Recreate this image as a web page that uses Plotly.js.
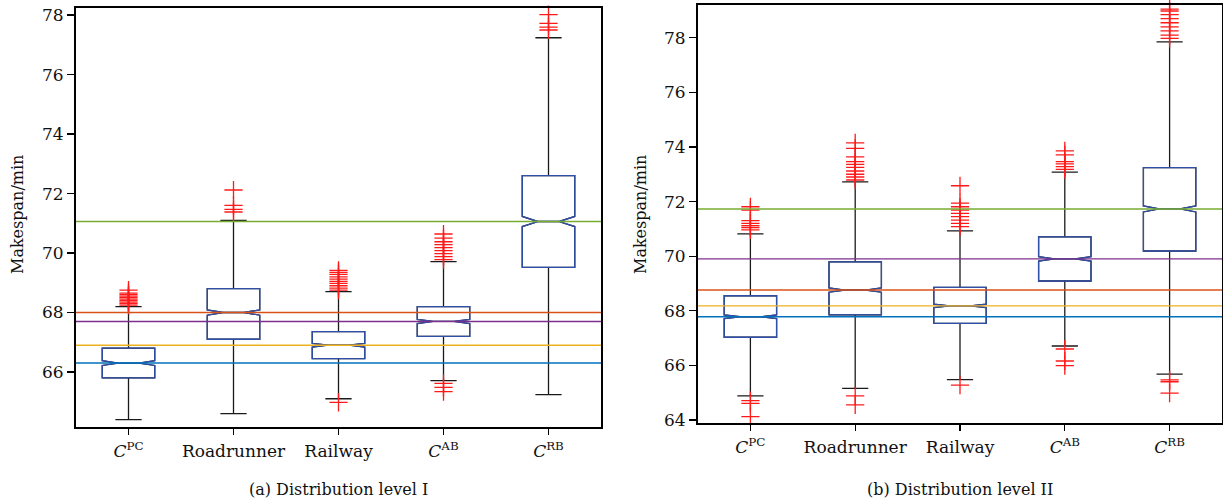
<!DOCTYPE html>
<html><head><meta charset="utf-8">
<script src="https://cdn.plot.ly/plotly-3.0.1.min.js"></script>
<style>body{margin:0;background:#fff}</style>
</head><body><div id="chart" style="width:1223px;height:504px"></div>
<script>
const categories = ['<i>C</i><sup>PC</sup>', 'Roadrunner', 'Railway', '<i>C</i><sup>AB</sup>', '<i>C</i><sup>RB</sup>'];
const positions = [0, 1, 2, 3, 4];
const medianLineColors = ['#0072BD', '#D95319', '#EDB120', '#7E2F8E', '#77AC30'];

// (a) Distribution level I
const l1Q1 = [65.8, 67.1, 66.45, 67.2, 69.52];
const l1Median = [66.3, 68.0, 66.9, 67.7, 71.06];
const l1Q3 = [66.8, 68.8, 67.36, 68.2, 72.6];
const l1Lower = [64.4, 64.6, 65.1, 65.71, 65.24];
const l1Upper = [68.2, 71.1, 68.7, 69.71, 77.24];
const l1Notch = [0.08, 0.09, 0.06, 0.07, 0.17];
const l1Outliers = [
  [68.25, 68.3, 68.35, 68.4, 68.45, 68.5, 68.55, 68.6, 68.65, 68.75],
  [71.38, 71.47, 71.6, 72.12],
  [64.98, 68.75, 68.82, 68.9, 68.98, 69.05, 69.12, 69.2, 69.28, 69.35, 69.42],
  [65.34, 65.48, 65.62, 69.78, 69.88, 69.98, 70.08, 70.18, 70.28, 70.38, 70.5, 70.64],
  [77.5, 77.6, 77.72, 78.02]
];

// (b) Distribution level II
const l2Q1 = [67.03, 67.85, 67.54, 69.09, 70.19];
const l2Median = [67.78, 68.76, 68.18, 69.9, 71.73];
const l2Q3 = [68.55, 69.79, 68.86, 70.71, 73.24];
const l2Lower = [64.88, 65.16, 65.48, 66.71, 65.68];
const l2Upper = [70.82, 72.72, 70.93, 73.08, 77.85];
const l2Notch = [0.07, 0.08, 0.06, 0.08, 0.11];
const l2Outliers = [
  [64.12, 64.61, 64.71, 70.96, 71.05, 71.12, 71.2, 71.3, 71.69, 71.81],
  [64.55, 64.88, 72.79, 72.9, 73.0, 73.12, 73.25, 73.36, 73.46, 73.64, 73.95, 74.15],
  [65.28, 71.08, 71.2, 71.32, 71.45, 71.57, 71.69, 71.81, 71.94, 72.58],
  [65.99, 66.16, 66.6, 73.18, 73.28, 73.38, 73.46, 73.71, 73.86],
  [64.98, 65.4, 65.47, 77.98, 78.1, 78.25, 78.4, 78.55, 78.7, 78.85, 78.98, 79.05]
];

const serif = 'DejaVu Serif, serif';
const traces = [];
const shapes = [];

function addPanel(xa, ya, q1, med, q3, lo, hi, notch, outl) {
  // whiskers (black)
  traces.push({
    type: 'box', x: positions, q1: q1, median: med, q3: q3,
    lowerfence: lo, upperfence: hi, notched: true, notchspan: notch, notchwidth: 0.3,
    width: 0.5, whiskerwidth: 0.5, boxpoints: false,
    line: {color: '#1a1a1a', width: 1.3}, fillcolor: 'rgba(255,255,255,0)',
    xaxis: xa, yaxis: ya, showlegend: false, hoverinfo: 'skip'
  });
  // box (blue)
  traces.push({
    type: 'box', x: positions, q1: q1, median: med, q3: q3,
    lowerfence: q1, upperfence: q3, notched: true, notchspan: notch, notchwidth: 0.3,
    width: 0.5, whiskerwidth: 0, boxpoints: false,
    line: {color: '#2f4fa8', width: 1.3}, fillcolor: 'rgba(255,255,255,0)',
    xaxis: xa, yaxis: ya, showlegend: false, hoverinfo: 'skip'
  });
  // outliers
  const ox = [], oy = [];
  outl.forEach((arr, i) => arr.forEach(v => { ox.push(positions[i]); oy.push(v); }));
  traces.push({
    type: 'scatter', mode: 'markers', x: ox, y: oy,
    marker: {symbol: 'cross-thin', size: 13, line: {color: '#ff1a1a', width: 1.3}},
    xaxis: xa, yaxis: ya, showlegend: false, hoverinfo: 'skip', cliponaxis: false
  });
  // horizontal median reference lines
  const xr = xa === 'x' ? 'x domain' : 'x2 domain';
  med.forEach((m, i) => shapes.push({
    type: 'line', xref: xr, yref: ya, x0: 0, x1: 1, y0: m, y1: m,
    line: {color: medianLineColors[i], width: 1.4}
  }));
}

addPanel('x', 'y', l1Q1, l1Median, l1Q3, l1Lower, l1Upper, l1Notch, l1Outliers);
addPanel('x2', 'y2', l2Q1, l2Median, l2Q3, l2Lower, l2Upper, l2Notch, l2Outliers);

const axCommon = {
  showline: true, mirror: true, linecolor: '#000', linewidth: 2,
  ticks: 'outside', tickcolor: '#000', tickwidth: 1.3, ticklen: 7,
  showgrid: false, zeroline: false,
  tickfont: {family: serif, size: 17, color: '#111'}, fixedrange: true
};

const layout = {
  width: 1223, height: 504,
  margin: {l: 0, r: 0, t: 0, b: 0},
  paper_bgcolor: '#fff', plot_bgcolor: '#fff',
  boxmode: 'overlay',
  xaxis: Object.assign({}, axCommon, {domain: [76/1223, 601/1223], range: [-0.5, 4.5],
    tickvals: positions, ticktext: categories, ticklen: 6, ticklabelstandoff: 2, anchor: 'y'}),
  yaxis: Object.assign({}, axCommon, {domain: [1 - 427/504, 1 - 8/504], range: [64.15, 78.24],
    tickvals: [66, 68, 70, 72, 74, 76, 78], anchor: 'x'}),
  xaxis2: Object.assign({}, axCommon, {domain: [698/1223, 1222/1223], range: [-0.5, 4.5],
    tickvals: positions, ticktext: categories, ticklen: 6, ticklabelstandoff: 2, anchor: 'y2'}),
  yaxis2: Object.assign({}, axCommon, {domain: [1 - 422.7/504, 1 - 5/504], range: [63.9, 79.2],
    tickvals: [64, 66, 68, 70, 72, 74, 76, 78], anchor: 'x2'}),
  shapes: shapes,
  annotations: [
    {text: 'Makespan/min', xref: 'paper', yref: 'paper', x: 17/1223, y: 1 - 215/504,
     textangle: -90, showarrow: false, xanchor: 'center', yanchor: 'middle',
     font: {family: serif, size: 16, color: '#111'}},
    {text: 'Makespan/min', xref: 'paper', yref: 'paper', x: 640/1223, y: 1 - 215/504,
     textangle: -90, showarrow: false, xanchor: 'center', yanchor: 'middle',
     font: {family: serif, size: 16, color: '#111'}},
    {text: '(a) Distribution level I', xref: 'paper', yref: 'paper', x: 338/1223, y: 1 - 489/504,
     showarrow: false, xanchor: 'center', yanchor: 'middle',
     font: {family: serif, size: 16, color: '#111'}},
    {text: '(b) Distribution level II', xref: 'paper', yref: 'paper', x: 960/1223, y: 1 - 489/504,
     showarrow: false, xanchor: 'center', yanchor: 'middle',
     font: {family: serif, size: 16, color: '#111'}}
  ]
};

Plotly.newPlot('chart', traces, layout, {staticPlot: true, displayModeBar: false});
</script>
</body></html>
